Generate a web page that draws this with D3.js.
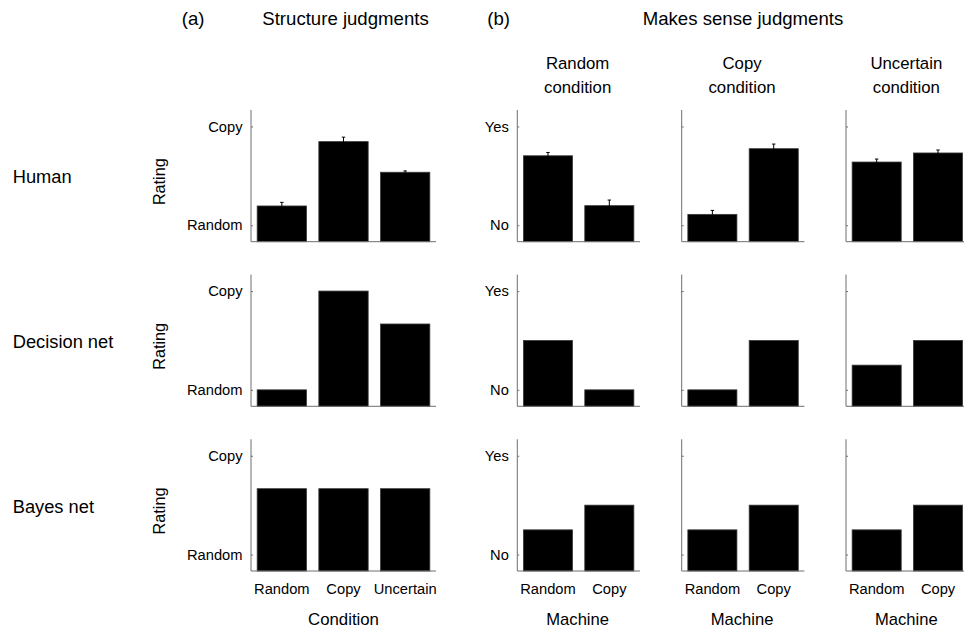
<!DOCTYPE html>
<html>
<head>
<meta charset="utf-8">
<script src="https://cdn.jsdelivr.net/npm/d3@7"></script>
<style>
  html, body { margin: 0; padding: 0; background: #fff; }
  svg { display: block; font-family: "Liberation Sans", Arial, Helvetica, sans-serif; }
</style>
</head>
<body>
<svg id="chart" width="964" height="635"></svg>
<script>
// ---- data ---------------------------------------------------------------
const modelNames = ["Human", "Decision net", "Bayes net"];
const structureConditions = ["Random", "Copy", "Uncertain"];
const machineTypes = ["Random", "Copy"];
const senseConditions = ["Random", "Copy", "Uncertain"];

// rating scale 1..7 ("Random"/"No" = 1, "Copy"/"Yes" = 7)
const ratingTickValues = [1, 7];
const structureTickLabels = ["Random", "Copy"];
const senseTickLabels = ["No", "Yes"];

// (a) structure judgments, one value per condition
const humanStructure = [2.17, 6.08, 4.22];
const humanStructureErr = [0.22, 0.27, 0.08];
const decisionStructure = [1, 7, 5];
const bayesStructure = [5, 5, 5];

// (b) makes-sense judgments, one value per machine, per condition
const humanSenseRandom = [5.22, 2.19];
const humanSenseCopy = [1.66, 5.65];
const humanSenseUncertain = [4.84, 5.39];
const humanSenseRandomErr = [0.2, 0.34];
const humanSenseCopyErr = [0.24, 0.28];
const humanSenseUncertainErr = [0.18, 0.18];
const decisionSenseRandom = [4, 1];
const decisionSenseCopy = [1, 4];
const decisionSenseUncertain = [2.5, 4];
const bayesSenseRandom = [2.5, 4];
const bayesSenseCopy = [2.5, 4];
const bayesSenseUncertain = [2.5, 4];

// ---- layout -------------------------------------------------------------
const svg = d3.select("#chart");
const rowBottoms = [241.7, 406.3, 571];
const plotHeight = 131.7;
const panelA = [251, 436];
const panelsB = [[517.3, 640], [681.7, 804.4], [846, 968.7]];
const axisColor = "#6e6e6e";

const structureRows = [
  { values: humanStructure, errs: humanStructureErr },
  { values: decisionStructure, errs: null },
  { values: bayesStructure, errs: null }
];
const senseRows = [
  [
    { values: humanSenseRandom, errs: humanSenseRandomErr },
    { values: humanSenseCopy, errs: humanSenseCopyErr },
    { values: humanSenseUncertain, errs: humanSenseUncertainErr }
  ],
  [
    { values: decisionSenseRandom, errs: null },
    { values: decisionSenseCopy, errs: null },
    { values: decisionSenseUncertain, errs: null }
  ],
  [
    { values: bayesSenseRandom, errs: null },
    { values: bayesSenseCopy, errs: null },
    { values: bayesSenseUncertain, errs: null }
  ]
];

function drawPanel(range, bottom, cats, series, tickLabels, showXLabels) {
  const x = d3.scaleBand().domain(cats).range(range)
    .paddingInner(0.2).paddingOuter(0.1);
  const y = d3.scaleLinear().domain([0, 8]).range([bottom, bottom - plotHeight]);
  const g = svg.append("g");

  // bars
  g.selectAll("rect.bar").data(series.values).join("rect")
    .attr("class", "bar")
    .attr("x", (d, i) => x(cats[i]))
    .attr("width", x.bandwidth())
    .attr("y", d => y(d))
    .attr("height", d => y(0) - y(d))
    .attr("fill", "#000")
    .attr("stroke", "#3a3a3a")
    .attr("stroke-width", 0.8);

  // error bars
  if (series.errs) {
    const eb = g.selectAll("g.err").data(series.values).join("g").attr("class", "err");
    const cx = i => x(cats[i]) + x.bandwidth() / 2;
    eb.append("line")
      .attr("x1", (d, i) => cx(i)).attr("x2", (d, i) => cx(i))
      .attr("y1", (d, i) => y(d - series.errs[i]))
      .attr("y2", (d, i) => y(d + series.errs[i]))
      .attr("stroke", "#000").attr("stroke-width", 1);
    eb.append("line")
      .attr("x1", (d, i) => cx(i) - 1.7).attr("x2", (d, i) => cx(i) + 1.7)
      .attr("y1", (d, i) => y(d + series.errs[i]))
      .attr("y2", (d, i) => y(d + series.errs[i]))
      .attr("stroke", "#000").attr("stroke-width", 1);
  }

  // y axis: inward ticks, labels on the outside
  const yAxis = d3.axisLeft(y).tickValues(ratingTickValues)
    .tickSize(-2).tickPadding(8.5)
    .tickFormat((d, i) => tickLabels ? tickLabels[i] : "");
  const ya = g.append("g").attr("transform", `translate(${range[0]},0)`).call(yAxis);
  ya.select(".domain").attr("stroke", axisColor).attr("d", `M0,${bottom}V${bottom - plotHeight}`);
  ya.selectAll(".tick line").attr("stroke", axisColor);
  ya.selectAll(".tick text").attr("fill", "#000")
    .style("font-size", "14.7px").style("font-family", "inherit");

  // x axis
  const xAxis = d3.axisBottom(x).tickSize(0).tickPadding(13)
    .tickFormat(d => showXLabels ? d : "");
  const xa = g.append("g").attr("transform", `translate(0,${bottom})`).call(xAxis);
  xa.select(".domain").attr("stroke", axisColor).attr("d", `M${range[0]},0H${range[1]}`);
  xa.selectAll(".tick text").attr("fill", "#000")
    .style("font-size", "14.7px").style("font-family", "inherit");
  return x;
}

modelNames.forEach((name, r) => {
  const bottom = rowBottoms[r];
  const last = r === modelNames.length - 1;

  // row label
  svg.append("text").attr("x", 12.7).attr("y", bottom - 58.4)
    .style("font-size", "18.3px").text(name);

  // "Rating" axis title
  svg.append("text")
    .attr("transform", `translate(165,${bottom - 60}) rotate(-90)`)
    .attr("text-anchor", "middle")
    .style("font-size", "16.2px").text("Rating");

  drawPanel(panelA, bottom, structureConditions, structureRows[r], structureTickLabels, last);
  panelsB.forEach((range, k) => {
    drawPanel(range, bottom, machineTypes, senseRows[r][k], k === 0 ? senseTickLabels : null, last);
  });
});

// titles
svg.append("text").attr("x", 181.7).attr("y", 24.5)
  .style("font-size", "18.6px").text("(a)");
svg.append("text").attr("x", (panelA[0] + panelA[1]) / 2 + 2).attr("y", 24.5)
  .attr("text-anchor", "middle").style("font-size", "18.6px").text("Structure judgments");
svg.append("text").attr("x", 487.3).attr("y", 24.5)
  .style("font-size", "18.6px").text("(b)");
svg.append("text").attr("x", (panelsB[0][0] + panelsB[2][1]) / 2).attr("y", 24.5)
  .attr("text-anchor", "middle").style("font-size", "18.6px").text("Makes sense judgments");

// per-condition subtitles
panelsB.forEach((range, k) => {
  const cx = (range[0] + range[1]) / 2 - 1;
  const t = svg.append("text").attr("text-anchor", "middle").style("font-size", "16.8px");
  t.append("tspan").attr("x", cx).attr("y", 69).text(senseConditions[k]);
  t.append("tspan").attr("x", cx).attr("y", 92.5).text("condition");
});

// x-axis titles
const xTitleY = 625.3;
svg.append("text").attr("x", (panelA[0] + panelA[1]) / 2).attr("y", xTitleY)
  .attr("text-anchor", "middle").style("font-size", "16.8px").text("Condition");
panelsB.forEach(range => {
  svg.append("text").attr("x", (range[0] + range[1]) / 2 - 1).attr("y", xTitleY)
    .attr("text-anchor", "middle").style("font-size", "16.6px").text("Machine");
});
</script>
</body>
</html>
